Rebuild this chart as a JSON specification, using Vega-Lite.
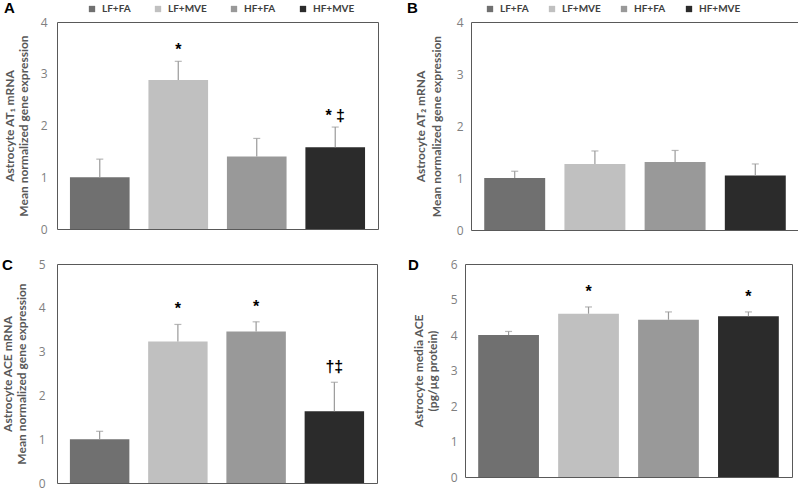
{
  "$schema": "https://vega.github.io/schema/vega-lite/v6.json",
  "background": "white",
  "padding": {"left": 0, "top": 0, "right": 2, "bottom": 0},
  "datasets": {
    "bars": [
      {"panel": "A", "group": "LF+FA", "mean": 1.0, "upper": 1.35, "sig": ""},
      {"panel": "A", "group": "LF+MVE", "mean": 2.88, "upper": 3.24, "sig": "*"},
      {"panel": "A", "group": "HF+FA", "mean": 1.4, "upper": 1.75, "sig": ""},
      {"panel": "A", "group": "HF+MVE", "mean": 1.58, "upper": 1.97, "sig": "* ‡"},
      {"panel": "B", "group": "LF+FA", "mean": 1.0, "upper": 1.13, "sig": ""},
      {"panel": "B", "group": "LF+MVE", "mean": 1.27, "upper": 1.52, "sig": ""},
      {"panel": "B", "group": "HF+FA", "mean": 1.31, "upper": 1.53, "sig": ""},
      {"panel": "B", "group": "HF+MVE", "mean": 1.05, "upper": 1.27, "sig": ""},
      {"panel": "C", "group": "LF+FA", "mean": 1.0, "upper": 1.18, "sig": ""},
      {"panel": "C", "group": "LF+MVE", "mean": 3.23, "upper": 3.62, "sig": "*"},
      {"panel": "C", "group": "HF+FA", "mean": 3.46, "upper": 3.68, "sig": "*"},
      {"panel": "C", "group": "HF+MVE", "mean": 1.64, "upper": 2.3, "sig": "†‡"},
      {"panel": "D", "group": "LF+FA", "mean": 4.0, "upper": 4.1, "sig": ""},
      {"panel": "D", "group": "LF+MVE", "mean": 4.6, "upper": 4.79, "sig": "*"},
      {"panel": "D", "group": "HF+FA", "mean": 4.43, "upper": 4.65, "sig": ""},
      {"panel": "D", "group": "HF+MVE", "mean": 4.53, "upper": 4.65, "sig": "*"}
    ]
  },
  "config": {
    "view": {"stroke": "#595959", "strokeWidth": 1},
    "font": "Lato",
    "axis": {"labelColor": "#7f7f7f", "titleColor": "#595959", "labelFont": "Open Sans", "titleFont": "Lato", "labelFontSize": 12, "titleFontSize": 12, "titleFontWeight": "bold", "titleLineHeight": 14, "domain": false, "ticks": false, "grid": false, "format": "d", "labelOverlap": false},
    "legend": {"orient": "none", "direction": "horizontal", "title": null, "symbolType": "square", "symbolSize": 40, "symbolStrokeWidth": 0, "labelFont": "Lato", "labelFontWeight": "bold", "labelFontSize": 10, "labelColor": "#404040", "padding": 0, "labelOffset": 5},
    "title": {"font": "Liberation Sans", "fontWeight": "bold", "fontSize": 15, "color": "#000000", "anchor": "start", "frame": "group", "offset": 0},
    "tick": {"color": "#9a9a9a", "thickness": 1.2},
    "rule": {"color": "#9a9a9a", "strokeWidth": 1.2}
  },
  "spacing": 20,
  "vconcat": [
    {
      "spacing": 27,
      "hconcat": [
        {
          "title": {"text": "A", "dx": -53, "dy": 16},
          "width": 321, "height": 207,
          "data": {"name": "bars"},
          "transform": [{"filter": "datum.panel === 'A'"}],
          "encoding": {
            "x": {"field": "group", "type": "nominal", "sort": ["LF+FA", "LF+MVE", "HF+FA", "HF+MVE"], "scale": {"paddingInner": 0.24, "paddingOuter": 0.165}, "axis": null}
          },
          "layer": [
            {
              "mark": {"type": "bar"},
              "encoding": {
                "y": {"field": "mean", "type": "quantitative", "scale": {"domain": [0, 4]}, "axis": {"values": [0, 1, 2, 3, 4], "labelPadding": 10, "title": ["Astrocyte AT₁ mRNA", "Mean normalized gene expression"], "titlePadding": 10}},
                "color": {"field": "group", "type": "nominal", "sort": ["LF+FA", "LF+MVE", "HF+FA", "HF+MVE"], "scale": {"domain": ["LF+FA", "LF+MVE", "HF+FA", "HF+MVE"], "range": ["#707070", "#c0c0c0", "#999999", "#2b2b2b"]}, "legend": {"legendX": 30, "legendY": -18, "columnPadding": 22}}
              }
            },
            {"mark": {"type": "rule"}, "encoding": {"y": {"field": "mean", "type": "quantitative"}, "y2": {"field": "upper"}}},
            {"mark": {"type": "tick", "size": 7, "orient": "horizontal"}, "encoding": {"y": {"field": "upper", "type": "quantitative"}}},
            {"mark": {"type": "text", "baseline": "bottom", "dy": -3, "font": "Liberation Sans", "fontWeight": "bold", "fontSize": 16, "color": "#000000"}, "encoding": {"y": {"field": "upper", "type": "quantitative"}, "text": {"field": "sig"}}}
          ]
        },
        {
          "title": {"text": "B", "dx": -64, "dy": 16},
          "width": 328, "height": 208,
          "data": {"name": "bars"},
          "transform": [{"filter": "datum.panel === 'B'"}],
          "encoding": {
            "x": {"field": "group", "type": "nominal", "sort": ["LF+FA", "LF+MVE", "HF+FA", "HF+MVE"], "scale": {"paddingInner": 0.24, "paddingOuter": 0.165}, "axis": null}
          },
          "layer": [
            {
              "mark": {"type": "bar"},
              "encoding": {
                "y": {"field": "mean", "type": "quantitative", "scale": {"domain": [0, 4]}, "axis": {"values": [0, 1, 2, 3, 4], "labelPadding": 8, "title": ["Astrocyte AT₂ mRNA", "Mean normalized gene expression"], "titlePadding": 13, "titleLineHeight": 16}},
                "color": {"field": "group", "type": "nominal", "sort": ["LF+FA", "LF+MVE", "HF+FA", "HF+MVE"], "scale": {"domain": ["LF+FA", "LF+MVE", "HF+FA", "HF+MVE"], "range": ["#707070", "#c0c0c0", "#999999", "#2b2b2b"]}, "legend": {"legendX": 14, "legendY": -18, "columnPadding": 18}}
              }
            },
            {"mark": {"type": "rule"}, "encoding": {"y": {"field": "mean", "type": "quantitative"}, "y2": {"field": "upper"}}},
            {"mark": {"type": "tick", "size": 7, "orient": "horizontal"}, "encoding": {"y": {"field": "upper", "type": "quantitative"}}}
          ]
        }
      ],
      "resolve": {"scale": {"color": "independent", "y": "independent"}}
    },
    {
      "spacing": 29,
      "hconcat": [
        {
          "title": {"text": "C", "dx": -55, "dy": 19},
          "width": 320, "height": 219,
          "data": {"name": "bars"},
          "transform": [{"filter": "datum.panel === 'C'"}],
          "encoding": {
            "x": {"field": "group", "type": "nominal", "sort": ["LF+FA", "LF+MVE", "HF+FA", "HF+MVE"], "scale": {"paddingInner": 0.24, "paddingOuter": 0.165}, "axis": null}
          },
          "layer": [
            {
              "mark": {"type": "bar"},
              "encoding": {
                "y": {"field": "mean", "type": "quantitative", "scale": {"domain": [0, 5]}, "axis": {"values": [0, 1, 2, 3, 4, 5], "labelPadding": 12, "title": ["Astrocyte ACE mRNA", "Mean normalized gene expression"], "titlePadding": 10}},
                "color": {"field": "group", "type": "nominal", "scale": {"domain": ["LF+FA", "LF+MVE", "HF+FA", "HF+MVE"], "range": ["#707070", "#c0c0c0", "#999999", "#2b2b2b"]}, "legend": null}
              }
            },
            {"mark": {"type": "rule"}, "encoding": {"y": {"field": "mean", "type": "quantitative"}, "y2": {"field": "upper"}}},
            {"mark": {"type": "tick", "size": 7, "orient": "horizontal"}, "encoding": {"y": {"field": "upper", "type": "quantitative"}}},
            {"mark": {"type": "text", "baseline": "bottom", "dy": -7, "font": "Liberation Sans", "fontWeight": "bold", "fontSize": 16, "color": "#000000"}, "encoding": {"y": {"field": "upper", "type": "quantitative"}, "text": {"field": "sig"}}}
          ]
        },
        {
          "title": {"text": "D", "dx": -57, "dy": 19},
          "width": 327, "height": 213,
          "data": {"name": "bars"},
          "transform": [{"filter": "datum.panel === 'D'"}],
          "encoding": {
            "x": {"field": "group", "type": "nominal", "sort": ["LF+FA", "LF+MVE", "HF+FA", "HF+MVE"], "scale": {"paddingInner": 0.24, "paddingOuter": 0.165}, "axis": null},
            "y": {"field": "mean", "type": "quantitative", "scale": {"domain": [0, 6], "nice": false}, "axis": {"tickCount": 6, "labelOverlap": false, "labelPadding": 8, "title": ["Astrocyte media ACE", "(pg/µg protein)"], "titlePadding": 11}}
          },
          "layer": [
            {
              "mark": {"type": "bar"},
              "encoding": {
                "color": {"field": "group", "type": "nominal", "scale": {"domain": ["LF+FA", "LF+MVE", "HF+FA", "HF+MVE"], "range": ["#707070", "#c0c0c0", "#999999", "#2b2b2b"]}, "legend": null}
              }
            },
            {"mark": {"type": "rule"}, "encoding": {"y2": {"field": "upper"}}},
            {"mark": {"type": "tick", "size": 7, "orient": "horizontal"}, "encoding": {"y": {"field": "upper", "type": "quantitative"}}},
            {"mark": {"type": "text", "baseline": "bottom", "dy": -7, "font": "Liberation Sans", "fontWeight": "bold", "fontSize": 16, "color": "#000000"}, "encoding": {"y": {"field": "upper", "type": "quantitative"}, "text": {"field": "sig"}}}
          ]
        }
      ],
      "resolve": {"scale": {"color": "independent", "y": "independent"}}
    }
  ]
}
